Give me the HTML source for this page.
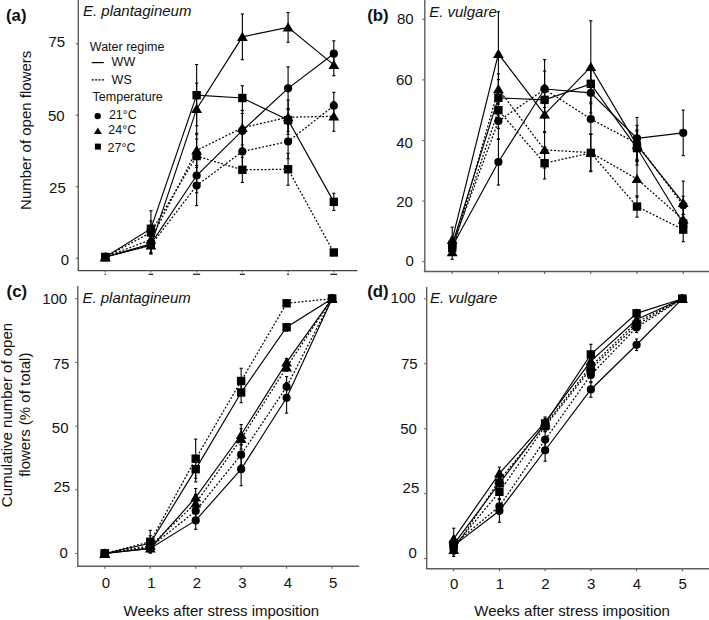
<!DOCTYPE html><html><head><meta charset="utf-8"><style>html,body{margin:0;padding:0;background:#fff;}svg{display:block;}text{font-family:"Liberation Sans",sans-serif;}</style></head><body><svg width="709" height="620" viewBox="0 0 709 620" font-family="Liberation Sans, sans-serif" fill="#111">
<rect width="709" height="620" fill="#fff"/>
<line x1="78.3" y1="0" x2="78.3" y2="270.3" stroke="#5e5e5e" stroke-width="1.4" />
<line x1="77.6" y1="270.5" x2="357.5" y2="270.5" stroke="#444" stroke-width="1.25" />
<line x1="424.8" y1="0" x2="424.8" y2="271.5" stroke="#5e5e5e" stroke-width="1.4" />
<line x1="423.8" y1="271.5" x2="709" y2="271.5" stroke="#5e5e5e" stroke-width="1.4" />
<line x1="77.8" y1="286" x2="77.8" y2="566.2" stroke="#5e5e5e" stroke-width="1.4" />
<line x1="77.1" y1="566.2" x2="359.2" y2="566.2" stroke="#5e5e5e" stroke-width="1.4" />
<line x1="426.7" y1="287" x2="426.7" y2="568.8" stroke="#5e5e5e" stroke-width="1.4" />
<line x1="426" y1="568.8" x2="709" y2="568.8" stroke="#5e5e5e" stroke-width="1.4" />
<line x1="75.8" y1="258.2" x2="78.3" y2="258.2" stroke="#5e5e5e" stroke-width="1.1" />
<line x1="75.8" y1="186.7" x2="78.3" y2="186.7" stroke="#5e5e5e" stroke-width="1.1" />
<line x1="75.8" y1="115.2" x2="78.3" y2="115.2" stroke="#5e5e5e" stroke-width="1.1" />
<line x1="75.8" y1="43.7" x2="78.3" y2="43.7" stroke="#5e5e5e" stroke-width="1.1" />
<line x1="422.3" y1="261.7" x2="424.8" y2="261.7" stroke="#5e5e5e" stroke-width="1.1" />
<line x1="422.3" y1="201.1" x2="424.8" y2="201.1" stroke="#5e5e5e" stroke-width="1.1" />
<line x1="422.3" y1="140.5" x2="424.8" y2="140.5" stroke="#5e5e5e" stroke-width="1.1" />
<line x1="422.3" y1="79.9" x2="424.8" y2="79.9" stroke="#5e5e5e" stroke-width="1.1" />
<line x1="422.3" y1="19.3" x2="424.8" y2="19.3" stroke="#5e5e5e" stroke-width="1.1" />
<line x1="75.3" y1="553.5" x2="77.8" y2="553.5" stroke="#5e5e5e" stroke-width="1.1" />
<line x1="75.3" y1="489.8" x2="77.8" y2="489.8" stroke="#5e5e5e" stroke-width="1.1" />
<line x1="75.3" y1="426.1" x2="77.8" y2="426.1" stroke="#5e5e5e" stroke-width="1.1" />
<line x1="75.3" y1="362.4" x2="77.8" y2="362.4" stroke="#5e5e5e" stroke-width="1.1" />
<line x1="75.3" y1="298.7" x2="77.8" y2="298.7" stroke="#5e5e5e" stroke-width="1.1" />
<line x1="424.2" y1="558.6" x2="426.7" y2="558.6" stroke="#5e5e5e" stroke-width="1.1" />
<line x1="424.2" y1="493.65" x2="426.7" y2="493.65" stroke="#5e5e5e" stroke-width="1.1" />
<line x1="424.2" y1="428.7" x2="426.7" y2="428.7" stroke="#5e5e5e" stroke-width="1.1" />
<line x1="424.2" y1="363.75" x2="426.7" y2="363.75" stroke="#5e5e5e" stroke-width="1.1" />
<line x1="424.2" y1="298.8" x2="426.7" y2="298.8" stroke="#5e5e5e" stroke-width="1.1" />
<line x1="452.2" y1="271.5" x2="452.2" y2="274" stroke="#5e5e5e" stroke-width="1.1" />
<line x1="498.4" y1="271.5" x2="498.4" y2="274" stroke="#5e5e5e" stroke-width="1.1" />
<line x1="544.6" y1="271.5" x2="544.6" y2="274" stroke="#5e5e5e" stroke-width="1.1" />
<line x1="590.8" y1="271.5" x2="590.8" y2="274" stroke="#5e5e5e" stroke-width="1.1" />
<line x1="637" y1="271.5" x2="637" y2="274" stroke="#5e5e5e" stroke-width="1.1" />
<line x1="683.2" y1="271.5" x2="683.2" y2="274" stroke="#5e5e5e" stroke-width="1.1" />
<line x1="104.8" y1="566.2" x2="104.8" y2="568.7" stroke="#5e5e5e" stroke-width="1.1" />
<line x1="150.25" y1="566.2" x2="150.25" y2="568.7" stroke="#5e5e5e" stroke-width="1.1" />
<line x1="195.7" y1="566.2" x2="195.7" y2="568.7" stroke="#5e5e5e" stroke-width="1.1" />
<line x1="241.15" y1="566.2" x2="241.15" y2="568.7" stroke="#5e5e5e" stroke-width="1.1" />
<line x1="286.6" y1="566.2" x2="286.6" y2="568.7" stroke="#5e5e5e" stroke-width="1.1" />
<line x1="332.05" y1="566.2" x2="332.05" y2="568.7" stroke="#5e5e5e" stroke-width="1.1" />
<line x1="453.7" y1="568.8" x2="453.7" y2="571.3" stroke="#5e5e5e" stroke-width="1.1" />
<line x1="499.42" y1="568.8" x2="499.42" y2="571.3" stroke="#5e5e5e" stroke-width="1.1" />
<line x1="545.14" y1="568.8" x2="545.14" y2="571.3" stroke="#5e5e5e" stroke-width="1.1" />
<line x1="590.86" y1="568.8" x2="590.86" y2="571.3" stroke="#5e5e5e" stroke-width="1.1" />
<line x1="636.58" y1="568.8" x2="636.58" y2="571.3" stroke="#5e5e5e" stroke-width="1.1" />
<line x1="682.3" y1="568.8" x2="682.3" y2="571.3" stroke="#5e5e5e" stroke-width="1.1" />
<line x1="105.2" y1="270.3" x2="105.2" y2="272.5" stroke="#5e5e5e" stroke-width="1.0" />
<line x1="104.6" y1="274.3" x2="105.8" y2="274.3" stroke="#222" stroke-width="1.3" />
<line x1="150.92" y1="270.3" x2="150.92" y2="272.5" stroke="#5e5e5e" stroke-width="1.0" />
<line x1="148.62" y1="274.3" x2="153.22" y2="274.3" stroke="#222" stroke-width="1.3" />
<line x1="196.64" y1="270.3" x2="196.64" y2="272.5" stroke="#5e5e5e" stroke-width="1.0" />
<line x1="193.14" y1="274.3" x2="200.14" y2="274.3" stroke="#222" stroke-width="1.3" />
<line x1="242.36" y1="270.3" x2="242.36" y2="272.5" stroke="#5e5e5e" stroke-width="1.0" />
<line x1="239.86" y1="274.3" x2="244.86" y2="274.3" stroke="#222" stroke-width="1.3" />
<line x1="288.08" y1="270.3" x2="288.08" y2="272.5" stroke="#5e5e5e" stroke-width="1.0" />
<line x1="287.08" y1="274.3" x2="289.08" y2="274.3" stroke="#222" stroke-width="1.3" />
<line x1="333.8" y1="270.3" x2="333.8" y2="272.5" stroke="#5e5e5e" stroke-width="1.0" />
<line x1="330.4" y1="274.3" x2="337.2" y2="274.3" stroke="#222" stroke-width="1.3" />
<text x="65.2" y="47.2" font-size="15" text-anchor="end" font-weight="normal" font-style="normal" >75</text>
<text x="64.6" y="121" font-size="15" text-anchor="end" font-weight="normal" font-style="normal" >50</text>
<text x="65.8" y="192.7" font-size="15" text-anchor="end" font-weight="normal" font-style="normal" >25</text>
<text x="69.2" y="265" font-size="15" text-anchor="end" font-weight="normal" font-style="normal" >0</text>
<text x="413.6" y="24.1" font-size="15" text-anchor="end" font-weight="normal" font-style="normal" >80</text>
<text x="412.6" y="84.5" font-size="15" text-anchor="end" font-weight="normal" font-style="normal" >60</text>
<text x="412.9" y="147.7" font-size="15" text-anchor="end" font-weight="normal" font-style="normal" >40</text>
<text x="412.9" y="207.1" font-size="15" text-anchor="end" font-weight="normal" font-style="normal" >20</text>
<text x="413.9" y="265.8" font-size="15" text-anchor="end" font-weight="normal" font-style="normal" >0</text>
<text x="67.2" y="304" font-size="15" text-anchor="end" font-weight="normal" font-style="normal" >100</text>
<text x="69.4" y="368.9" font-size="15" text-anchor="end" font-weight="normal" font-style="normal" >75</text>
<text x="68.5" y="433.1" font-size="15" text-anchor="end" font-weight="normal" font-style="normal" >50</text>
<text x="70.1" y="491.9" font-size="15" text-anchor="end" font-weight="normal" font-style="normal" >25</text>
<text x="67.9" y="557.6" font-size="15" text-anchor="end" font-weight="normal" font-style="normal" >0</text>
<text x="415.6" y="303.3" font-size="15" text-anchor="end" font-weight="normal" font-style="normal" >100</text>
<text x="417.6" y="368.9" font-size="15" text-anchor="end" font-weight="normal" font-style="normal" >75</text>
<text x="416.9" y="433.9" font-size="15" text-anchor="end" font-weight="normal" font-style="normal" >50</text>
<text x="419.3" y="493.2" font-size="15" text-anchor="end" font-weight="normal" font-style="normal" >25</text>
<text x="416.8" y="557.7" font-size="15" text-anchor="end" font-weight="normal" font-style="normal" >0</text>
<text x="106" y="587.6" font-size="15" text-anchor="middle" font-weight="normal" font-style="normal" >0</text>
<text x="151.45" y="587.6" font-size="15" text-anchor="middle" font-weight="normal" font-style="normal" >1</text>
<text x="196.9" y="587.6" font-size="15" text-anchor="middle" font-weight="normal" font-style="normal" >2</text>
<text x="242.35" y="587.6" font-size="15" text-anchor="middle" font-weight="normal" font-style="normal" >3</text>
<text x="287.8" y="587.6" font-size="15" text-anchor="middle" font-weight="normal" font-style="normal" >4</text>
<text x="333.25" y="587.6" font-size="15" text-anchor="middle" font-weight="normal" font-style="normal" >5</text>
<text x="454.1" y="588.6" font-size="15" text-anchor="middle" font-weight="normal" font-style="normal" >0</text>
<text x="499.82" y="588.6" font-size="15" text-anchor="middle" font-weight="normal" font-style="normal" >1</text>
<text x="545.54" y="588.6" font-size="15" text-anchor="middle" font-weight="normal" font-style="normal" >2</text>
<text x="591.26" y="588.6" font-size="15" text-anchor="middle" font-weight="normal" font-style="normal" >3</text>
<text x="636.98" y="588.6" font-size="15" text-anchor="middle" font-weight="normal" font-style="normal" >4</text>
<text x="682.7" y="588.6" font-size="15" text-anchor="middle" font-weight="normal" font-style="normal" >5</text>
<text x="123.6" y="616.3" font-size="15" text-anchor="start" font-weight="normal" font-style="normal" >Weeks after stress imposition</text>
<text x="474.3" y="616.3" font-size="15" text-anchor="start" font-weight="normal" font-style="normal" >Weeks after stress imposition</text>
<text transform="translate(30.6 130.3) rotate(-90)" font-size="15" text-anchor="middle">Number of open flowers</text>
<text transform="translate(11.9 415) rotate(-90)" font-size="15" text-anchor="middle">Cumulative number of open</text>
<text transform="translate(29.8 414.7) rotate(-90)" font-size="15" text-anchor="middle">flowers (% of total)</text>
<text x="6" y="20.5" font-size="16.8" text-anchor="start" font-weight="bold" font-style="normal" >(a)</text>
<text x="367.2" y="20.5" font-size="16.8" text-anchor="start" font-weight="bold" font-style="normal" >(b)</text>
<text x="6.6" y="297.3" font-size="16.8" text-anchor="start" font-weight="bold" font-style="normal" >(c)</text>
<text x="367.2" y="297.2" font-size="16.8" text-anchor="start" font-weight="bold" font-style="normal" >(d)</text>
<text x="83" y="15.5" font-size="15" text-anchor="start" font-weight="normal" font-style="italic" >E. plantagineum</text>
<text x="429.2" y="16.9" font-size="15" text-anchor="start" font-weight="normal" font-style="italic" >E. vulgare</text>
<text x="82.4" y="302.8" font-size="15" text-anchor="start" font-weight="normal" font-style="italic" >E. plantagineum</text>
<text x="429.9" y="303.3" font-size="15" text-anchor="start" font-weight="normal" font-style="italic" >E. vulgare</text>
<line x1="150.92" y1="235.32" x2="150.92" y2="252.48" stroke="#000" stroke-width="1.1" />
<line x1="149.32" y1="235.32" x2="152.52" y2="235.32" stroke="#000" stroke-width="1.1" />
<line x1="149.32" y1="252.48" x2="152.52" y2="252.48" stroke="#000" stroke-width="1.1" />
<line x1="196.64" y1="158.39" x2="196.64" y2="192.71" stroke="#000" stroke-width="1.1" />
<line x1="195.04" y1="158.39" x2="198.24" y2="158.39" stroke="#000" stroke-width="1.1" />
<line x1="195.04" y1="192.71" x2="198.24" y2="192.71" stroke="#000" stroke-width="1.1" />
<line x1="242.36" y1="113.48" x2="242.36" y2="147.8" stroke="#000" stroke-width="1.1" />
<line x1="240.76" y1="113.48" x2="243.96" y2="113.48" stroke="#000" stroke-width="1.1" />
<line x1="240.76" y1="147.8" x2="243.96" y2="147.8" stroke="#000" stroke-width="1.1" />
<line x1="288.08" y1="66.87" x2="288.08" y2="109.77" stroke="#000" stroke-width="1.1" />
<line x1="286.48" y1="66.87" x2="289.68" y2="66.87" stroke="#000" stroke-width="1.1" />
<line x1="286.48" y1="109.77" x2="289.68" y2="109.77" stroke="#000" stroke-width="1.1" />
<line x1="333.8" y1="40.84" x2="333.8" y2="66.58" stroke="#000" stroke-width="1.1" />
<line x1="332.2" y1="40.84" x2="335.4" y2="40.84" stroke="#000" stroke-width="1.1" />
<line x1="332.2" y1="66.58" x2="335.4" y2="66.58" stroke="#000" stroke-width="1.1" />
<line x1="150.92" y1="236.75" x2="150.92" y2="253.91" stroke="#000" stroke-width="1.1" />
<line x1="149.32" y1="236.75" x2="152.52" y2="236.75" stroke="#000" stroke-width="1.1" />
<line x1="149.32" y1="253.91" x2="152.52" y2="253.91" stroke="#000" stroke-width="1.1" />
<line x1="196.64" y1="83.17" x2="196.64" y2="134.65" stroke="#000" stroke-width="1.1" />
<line x1="195.04" y1="83.17" x2="198.24" y2="83.17" stroke="#000" stroke-width="1.1" />
<line x1="195.04" y1="134.65" x2="198.24" y2="134.65" stroke="#000" stroke-width="1.1" />
<line x1="242.36" y1="13.96" x2="242.36" y2="59.72" stroke="#000" stroke-width="1.1" />
<line x1="240.76" y1="13.96" x2="243.96" y2="13.96" stroke="#000" stroke-width="1.1" />
<line x1="240.76" y1="59.72" x2="243.96" y2="59.72" stroke="#000" stroke-width="1.1" />
<line x1="288.08" y1="12.53" x2="288.08" y2="42.27" stroke="#000" stroke-width="1.1" />
<line x1="286.48" y1="12.53" x2="289.68" y2="12.53" stroke="#000" stroke-width="1.1" />
<line x1="286.48" y1="42.27" x2="289.68" y2="42.27" stroke="#000" stroke-width="1.1" />
<line x1="333.8" y1="54" x2="333.8" y2="75.73" stroke="#000" stroke-width="1.1" />
<line x1="332.2" y1="54" x2="335.4" y2="54" stroke="#000" stroke-width="1.1" />
<line x1="332.2" y1="75.73" x2="335.4" y2="75.73" stroke="#000" stroke-width="1.1" />
<line x1="150.92" y1="210.72" x2="150.92" y2="246.76" stroke="#000" stroke-width="1.1" />
<line x1="149.32" y1="210.72" x2="152.52" y2="210.72" stroke="#000" stroke-width="1.1" />
<line x1="149.32" y1="246.76" x2="152.52" y2="246.76" stroke="#000" stroke-width="1.1" />
<line x1="196.64" y1="64.58" x2="196.64" y2="125.78" stroke="#000" stroke-width="1.1" />
<line x1="195.04" y1="64.58" x2="198.24" y2="64.58" stroke="#000" stroke-width="1.1" />
<line x1="195.04" y1="125.78" x2="198.24" y2="125.78" stroke="#000" stroke-width="1.1" />
<line x1="242.36" y1="85.74" x2="242.36" y2="110.34" stroke="#000" stroke-width="1.1" />
<line x1="240.76" y1="85.74" x2="243.96" y2="85.74" stroke="#000" stroke-width="1.1" />
<line x1="240.76" y1="110.34" x2="243.96" y2="110.34" stroke="#000" stroke-width="1.1" />
<line x1="288.08" y1="108.62" x2="288.08" y2="131.5" stroke="#000" stroke-width="1.1" />
<line x1="286.48" y1="108.62" x2="289.68" y2="108.62" stroke="#000" stroke-width="1.1" />
<line x1="286.48" y1="131.5" x2="289.68" y2="131.5" stroke="#000" stroke-width="1.1" />
<line x1="333.8" y1="193.28" x2="333.8" y2="210.44" stroke="#000" stroke-width="1.1" />
<line x1="332.2" y1="193.28" x2="335.4" y2="193.28" stroke="#000" stroke-width="1.1" />
<line x1="332.2" y1="210.44" x2="335.4" y2="210.44" stroke="#000" stroke-width="1.1" />
<line x1="150.92" y1="236.75" x2="150.92" y2="253.91" stroke="#000" stroke-width="1.1" />
<line x1="149.32" y1="236.75" x2="152.52" y2="236.75" stroke="#000" stroke-width="1.1" />
<line x1="149.32" y1="253.91" x2="152.52" y2="253.91" stroke="#000" stroke-width="1.1" />
<line x1="196.64" y1="165.54" x2="196.64" y2="205.58" stroke="#000" stroke-width="1.1" />
<line x1="195.04" y1="165.54" x2="198.24" y2="165.54" stroke="#000" stroke-width="1.1" />
<line x1="195.04" y1="205.58" x2="198.24" y2="205.58" stroke="#000" stroke-width="1.1" />
<line x1="242.36" y1="134.36" x2="242.36" y2="168.68" stroke="#000" stroke-width="1.1" />
<line x1="240.76" y1="134.36" x2="243.96" y2="134.36" stroke="#000" stroke-width="1.1" />
<line x1="240.76" y1="168.68" x2="243.96" y2="168.68" stroke="#000" stroke-width="1.1" />
<line x1="288.08" y1="124.35" x2="288.08" y2="158.67" stroke="#000" stroke-width="1.1" />
<line x1="286.48" y1="124.35" x2="289.68" y2="124.35" stroke="#000" stroke-width="1.1" />
<line x1="286.48" y1="158.67" x2="289.68" y2="158.67" stroke="#000" stroke-width="1.1" />
<line x1="333.8" y1="92.32" x2="333.8" y2="119.2" stroke="#000" stroke-width="1.1" />
<line x1="332.2" y1="92.32" x2="335.4" y2="92.32" stroke="#000" stroke-width="1.1" />
<line x1="332.2" y1="119.2" x2="335.4" y2="119.2" stroke="#000" stroke-width="1.1" />
<line x1="150.92" y1="231.03" x2="150.92" y2="248.19" stroke="#000" stroke-width="1.1" />
<line x1="149.32" y1="231.03" x2="152.52" y2="231.03" stroke="#000" stroke-width="1.1" />
<line x1="149.32" y1="248.19" x2="152.52" y2="248.19" stroke="#000" stroke-width="1.1" />
<line x1="196.64" y1="133.22" x2="196.64" y2="167.54" stroke="#000" stroke-width="1.1" />
<line x1="195.04" y1="133.22" x2="198.24" y2="133.22" stroke="#000" stroke-width="1.1" />
<line x1="195.04" y1="167.54" x2="198.24" y2="167.54" stroke="#000" stroke-width="1.1" />
<line x1="242.36" y1="110.62" x2="242.36" y2="144.94" stroke="#000" stroke-width="1.1" />
<line x1="240.76" y1="110.62" x2="243.96" y2="110.62" stroke="#000" stroke-width="1.1" />
<line x1="240.76" y1="144.94" x2="243.96" y2="144.94" stroke="#000" stroke-width="1.1" />
<line x1="288.08" y1="100.04" x2="288.08" y2="134.36" stroke="#000" stroke-width="1.1" />
<line x1="286.48" y1="100.04" x2="289.68" y2="100.04" stroke="#000" stroke-width="1.1" />
<line x1="286.48" y1="134.36" x2="289.68" y2="134.36" stroke="#000" stroke-width="1.1" />
<line x1="333.8" y1="101.47" x2="333.8" y2="131.22" stroke="#000" stroke-width="1.1" />
<line x1="332.2" y1="101.47" x2="335.4" y2="101.47" stroke="#000" stroke-width="1.1" />
<line x1="332.2" y1="131.22" x2="335.4" y2="131.22" stroke="#000" stroke-width="1.1" />
<line x1="150.92" y1="221.02" x2="150.92" y2="243.9" stroke="#000" stroke-width="1.1" />
<line x1="149.32" y1="221.02" x2="152.52" y2="221.02" stroke="#000" stroke-width="1.1" />
<line x1="149.32" y1="243.9" x2="152.52" y2="243.9" stroke="#000" stroke-width="1.1" />
<line x1="196.64" y1="138.94" x2="196.64" y2="173.26" stroke="#000" stroke-width="1.1" />
<line x1="195.04" y1="138.94" x2="198.24" y2="138.94" stroke="#000" stroke-width="1.1" />
<line x1="195.04" y1="173.26" x2="198.24" y2="173.26" stroke="#000" stroke-width="1.1" />
<line x1="242.36" y1="157.24" x2="242.36" y2="182.41" stroke="#000" stroke-width="1.1" />
<line x1="240.76" y1="157.24" x2="243.96" y2="157.24" stroke="#000" stroke-width="1.1" />
<line x1="240.76" y1="182.41" x2="243.96" y2="182.41" stroke="#000" stroke-width="1.1" />
<line x1="288.08" y1="153.24" x2="288.08" y2="185.27" stroke="#000" stroke-width="1.1" />
<line x1="286.48" y1="153.24" x2="289.68" y2="153.24" stroke="#000" stroke-width="1.1" />
<line x1="286.48" y1="185.27" x2="289.68" y2="185.27" stroke="#000" stroke-width="1.1" />
<polyline points="105.2,257.06 150.92,243.9 196.64,175.55 242.36,130.64 288.08,88.32 333.8,53.71" fill="none" stroke="#000" stroke-width="1.15" />
<polyline points="105.2,257.06 150.92,245.33 196.64,108.91 242.36,36.84 288.08,27.4 333.8,64.86" fill="none" stroke="#000" stroke-width="1.15" />
<polyline points="105.2,257.06 150.92,228.74 196.64,95.18 242.36,98.04 288.08,120.06 333.8,201.86" fill="none" stroke="#000" stroke-width="1.15" />
<polyline points="105.2,257.06 150.92,245.33 196.64,185.56 242.36,151.52 288.08,141.51 333.8,105.76" fill="none" stroke="#000" stroke-width="1.25" stroke-dasharray="1.9 1.8"/>
<polyline points="105.2,257.06 150.92,239.61 196.64,150.38 242.36,127.78 288.08,117.2 333.8,116.34" fill="none" stroke="#000" stroke-width="1.25" stroke-dasharray="1.9 1.8"/>
<polyline points="105.2,257.06 150.92,232.46 196.64,156.1 242.36,169.83 288.08,169.25 333.8,252.48" fill="none" stroke="#000" stroke-width="1.25" stroke-dasharray="1.9 1.8"/>
<circle cx="105.2" cy="257.06" r="4.1" fill="#000"/>
<circle cx="150.92" cy="243.9" r="4.1" fill="#000"/>
<circle cx="196.64" cy="175.55" r="4.1" fill="#000"/>
<circle cx="242.36" cy="130.64" r="4.1" fill="#000"/>
<circle cx="288.08" cy="88.32" r="4.1" fill="#000"/>
<circle cx="333.8" cy="53.71" r="4.1" fill="#000"/>
<path d="M105.2 252L110.6 261.2L99.8 261.2Z" fill="#000"/>
<path d="M150.92 240.27L156.32 249.47L145.52 249.47Z" fill="#000"/>
<path d="M196.64 103.85L202.04 113.05L191.24 113.05Z" fill="#000"/>
<path d="M242.36 31.78L247.76 40.98L236.96 40.98Z" fill="#000"/>
<path d="M288.08 22.34L293.48 31.54L282.68 31.54Z" fill="#000"/>
<path d="M333.8 59.8L339.2 69L328.4 69Z" fill="#000"/>
<rect x="101" y="252.86" width="8.4" height="8.4" fill="#000"/>
<rect x="146.72" y="224.54" width="8.4" height="8.4" fill="#000"/>
<rect x="192.44" y="90.98" width="8.4" height="8.4" fill="#000"/>
<rect x="238.16" y="93.84" width="8.4" height="8.4" fill="#000"/>
<rect x="283.88" y="115.86" width="8.4" height="8.4" fill="#000"/>
<rect x="329.6" y="197.66" width="8.4" height="8.4" fill="#000"/>
<circle cx="105.2" cy="257.06" r="4.1" fill="#000"/>
<circle cx="150.92" cy="245.33" r="4.1" fill="#000"/>
<circle cx="196.64" cy="185.56" r="4.1" fill="#000"/>
<circle cx="242.36" cy="151.52" r="4.1" fill="#000"/>
<circle cx="288.08" cy="141.51" r="4.1" fill="#000"/>
<circle cx="333.8" cy="105.76" r="4.1" fill="#000"/>
<path d="M105.2 252L110.6 261.2L99.8 261.2Z" fill="#000"/>
<path d="M150.92 234.55L156.32 243.75L145.52 243.75Z" fill="#000"/>
<path d="M196.64 145.32L202.04 154.52L191.24 154.52Z" fill="#000"/>
<path d="M242.36 122.72L247.76 131.92L236.96 131.92Z" fill="#000"/>
<path d="M288.08 112.14L293.48 121.34L282.68 121.34Z" fill="#000"/>
<path d="M333.8 111.28L339.2 120.48L328.4 120.48Z" fill="#000"/>
<rect x="101" y="252.86" width="8.4" height="8.4" fill="#000"/>
<rect x="146.72" y="228.26" width="8.4" height="8.4" fill="#000"/>
<rect x="192.44" y="151.9" width="8.4" height="8.4" fill="#000"/>
<rect x="238.16" y="165.63" width="8.4" height="8.4" fill="#000"/>
<rect x="283.88" y="165.05" width="8.4" height="8.4" fill="#000"/>
<rect x="329.6" y="248.28" width="8.4" height="8.4" fill="#000"/>
<line x1="452.2" y1="240.49" x2="452.2" y2="252.61" stroke="#000" stroke-width="1.1" />
<line x1="450.6" y1="240.49" x2="453.8" y2="240.49" stroke="#000" stroke-width="1.1" />
<line x1="450.6" y1="252.61" x2="453.8" y2="252.61" stroke="#000" stroke-width="1.1" />
<line x1="498.4" y1="138.99" x2="498.4" y2="185.04" stroke="#000" stroke-width="1.1" />
<line x1="496.8" y1="138.99" x2="500" y2="138.99" stroke="#000" stroke-width="1.1" />
<line x1="496.8" y1="185.04" x2="500" y2="185.04" stroke="#000" stroke-width="1.1" />
<line x1="544.6" y1="59.6" x2="544.6" y2="118.38" stroke="#000" stroke-width="1.1" />
<line x1="543" y1="59.6" x2="546.2" y2="59.6" stroke="#000" stroke-width="1.1" />
<line x1="543" y1="118.38" x2="546.2" y2="118.38" stroke="#000" stroke-width="1.1" />
<line x1="590.8" y1="68.69" x2="590.8" y2="117.17" stroke="#000" stroke-width="1.1" />
<line x1="589.2" y1="68.69" x2="592.4" y2="68.69" stroke="#000" stroke-width="1.1" />
<line x1="589.2" y1="117.17" x2="592.4" y2="117.17" stroke="#000" stroke-width="1.1" />
<line x1="637" y1="117.47" x2="637" y2="159.29" stroke="#000" stroke-width="1.1" />
<line x1="635.4" y1="117.47" x2="638.6" y2="117.47" stroke="#000" stroke-width="1.1" />
<line x1="635.4" y1="159.29" x2="638.6" y2="159.29" stroke="#000" stroke-width="1.1" />
<line x1="683.2" y1="110.2" x2="683.2" y2="155.65" stroke="#000" stroke-width="1.1" />
<line x1="681.6" y1="110.2" x2="684.8" y2="110.2" stroke="#000" stroke-width="1.1" />
<line x1="681.6" y1="155.65" x2="684.8" y2="155.65" stroke="#000" stroke-width="1.1" />
<line x1="452.2" y1="239.88" x2="452.2" y2="252" stroke="#000" stroke-width="1.1" />
<line x1="450.6" y1="239.88" x2="453.8" y2="239.88" stroke="#000" stroke-width="1.1" />
<line x1="450.6" y1="252" x2="453.8" y2="252" stroke="#000" stroke-width="1.1" />
<line x1="498.4" y1="102.93" x2="498.4" y2="139.29" stroke="#000" stroke-width="1.1" />
<line x1="496.8" y1="102.93" x2="500" y2="102.93" stroke="#000" stroke-width="1.1" />
<line x1="496.8" y1="139.29" x2="500" y2="139.29" stroke="#000" stroke-width="1.1" />
<line x1="544.6" y1="71.11" x2="544.6" y2="107.47" stroke="#000" stroke-width="1.1" />
<line x1="543" y1="71.11" x2="546.2" y2="71.11" stroke="#000" stroke-width="1.1" />
<line x1="543" y1="107.47" x2="546.2" y2="107.47" stroke="#000" stroke-width="1.1" />
<line x1="590.8" y1="103.84" x2="590.8" y2="134.14" stroke="#000" stroke-width="1.1" />
<line x1="589.2" y1="103.84" x2="592.4" y2="103.84" stroke="#000" stroke-width="1.1" />
<line x1="589.2" y1="134.14" x2="592.4" y2="134.14" stroke="#000" stroke-width="1.1" />
<line x1="637" y1="125.35" x2="637" y2="161.71" stroke="#000" stroke-width="1.1" />
<line x1="635.4" y1="125.35" x2="638.6" y2="125.35" stroke="#000" stroke-width="1.1" />
<line x1="635.4" y1="161.71" x2="638.6" y2="161.71" stroke="#000" stroke-width="1.1" />
<line x1="683.2" y1="196.25" x2="683.2" y2="214.43" stroke="#000" stroke-width="1.1" />
<line x1="681.6" y1="196.25" x2="684.8" y2="196.25" stroke="#000" stroke-width="1.1" />
<line x1="681.6" y1="214.43" x2="684.8" y2="214.43" stroke="#000" stroke-width="1.1" />
<line x1="452.2" y1="227.16" x2="452.2" y2="252.61" stroke="#000" stroke-width="1.1" />
<line x1="450.6" y1="227.16" x2="453.8" y2="227.16" stroke="#000" stroke-width="1.1" />
<line x1="450.6" y1="252.61" x2="453.8" y2="252.61" stroke="#000" stroke-width="1.1" />
<line x1="498.4" y1="11.72" x2="498.4" y2="95.96" stroke="#000" stroke-width="1.1" />
<line x1="496.8" y1="11.72" x2="500" y2="11.72" stroke="#000" stroke-width="1.1" />
<line x1="496.8" y1="95.96" x2="500" y2="95.96" stroke="#000" stroke-width="1.1" />
<line x1="544.6" y1="96.26" x2="544.6" y2="132.62" stroke="#000" stroke-width="1.1" />
<line x1="543" y1="96.26" x2="546.2" y2="96.26" stroke="#000" stroke-width="1.1" />
<line x1="543" y1="132.62" x2="546.2" y2="132.62" stroke="#000" stroke-width="1.1" />
<line x1="590.8" y1="20.81" x2="590.8" y2="112.93" stroke="#000" stroke-width="1.1" />
<line x1="589.2" y1="20.81" x2="592.4" y2="20.81" stroke="#000" stroke-width="1.1" />
<line x1="589.2" y1="112.93" x2="592.4" y2="112.93" stroke="#000" stroke-width="1.1" />
<line x1="637" y1="129.9" x2="637" y2="160.19" stroke="#000" stroke-width="1.1" />
<line x1="635.4" y1="129.9" x2="638.6" y2="129.9" stroke="#000" stroke-width="1.1" />
<line x1="635.4" y1="160.19" x2="638.6" y2="160.19" stroke="#000" stroke-width="1.1" />
<line x1="683.2" y1="181.1" x2="683.2" y2="224.73" stroke="#000" stroke-width="1.1" />
<line x1="681.6" y1="181.1" x2="684.8" y2="181.1" stroke="#000" stroke-width="1.1" />
<line x1="681.6" y1="224.73" x2="684.8" y2="224.73" stroke="#000" stroke-width="1.1" />
<line x1="452.2" y1="244.73" x2="452.2" y2="259.28" stroke="#000" stroke-width="1.1" />
<line x1="450.6" y1="244.73" x2="453.8" y2="244.73" stroke="#000" stroke-width="1.1" />
<line x1="450.6" y1="259.28" x2="453.8" y2="259.28" stroke="#000" stroke-width="1.1" />
<line x1="498.4" y1="73.84" x2="498.4" y2="104.14" stroke="#000" stroke-width="1.1" />
<line x1="496.8" y1="73.84" x2="500" y2="73.84" stroke="#000" stroke-width="1.1" />
<line x1="496.8" y1="104.14" x2="500" y2="104.14" stroke="#000" stroke-width="1.1" />
<line x1="544.6" y1="131.71" x2="544.6" y2="168.07" stroke="#000" stroke-width="1.1" />
<line x1="543" y1="131.71" x2="546.2" y2="131.71" stroke="#000" stroke-width="1.1" />
<line x1="543" y1="168.07" x2="546.2" y2="168.07" stroke="#000" stroke-width="1.1" />
<line x1="590.8" y1="134.44" x2="590.8" y2="170.8" stroke="#000" stroke-width="1.1" />
<line x1="589.2" y1="134.44" x2="592.4" y2="134.44" stroke="#000" stroke-width="1.1" />
<line x1="589.2" y1="170.8" x2="592.4" y2="170.8" stroke="#000" stroke-width="1.1" />
<line x1="637" y1="160.8" x2="637" y2="197.16" stroke="#000" stroke-width="1.1" />
<line x1="635.4" y1="160.8" x2="638.6" y2="160.8" stroke="#000" stroke-width="1.1" />
<line x1="635.4" y1="197.16" x2="638.6" y2="197.16" stroke="#000" stroke-width="1.1" />
<line x1="683.2" y1="207.46" x2="683.2" y2="231.7" stroke="#000" stroke-width="1.1" />
<line x1="681.6" y1="207.46" x2="684.8" y2="207.46" stroke="#000" stroke-width="1.1" />
<line x1="681.6" y1="231.7" x2="684.8" y2="231.7" stroke="#000" stroke-width="1.1" />
<line x1="452.2" y1="238.37" x2="452.2" y2="251.7" stroke="#000" stroke-width="1.1" />
<line x1="450.6" y1="238.37" x2="453.8" y2="238.37" stroke="#000" stroke-width="1.1" />
<line x1="450.6" y1="251.7" x2="453.8" y2="251.7" stroke="#000" stroke-width="1.1" />
<line x1="498.4" y1="79.6" x2="498.4" y2="115.96" stroke="#000" stroke-width="1.1" />
<line x1="496.8" y1="79.6" x2="500" y2="79.6" stroke="#000" stroke-width="1.1" />
<line x1="496.8" y1="115.96" x2="500" y2="115.96" stroke="#000" stroke-width="1.1" />
<line x1="544.6" y1="84.75" x2="544.6" y2="115.05" stroke="#000" stroke-width="1.1" />
<line x1="543" y1="84.75" x2="546.2" y2="84.75" stroke="#000" stroke-width="1.1" />
<line x1="543" y1="115.05" x2="546.2" y2="115.05" stroke="#000" stroke-width="1.1" />
<line x1="590.8" y1="65.66" x2="590.8" y2="102.02" stroke="#000" stroke-width="1.1" />
<line x1="589.2" y1="65.66" x2="592.4" y2="65.66" stroke="#000" stroke-width="1.1" />
<line x1="589.2" y1="102.02" x2="592.4" y2="102.02" stroke="#000" stroke-width="1.1" />
<line x1="637" y1="131.11" x2="637" y2="165.04" stroke="#000" stroke-width="1.1" />
<line x1="635.4" y1="131.11" x2="638.6" y2="131.11" stroke="#000" stroke-width="1.1" />
<line x1="635.4" y1="165.04" x2="638.6" y2="165.04" stroke="#000" stroke-width="1.1" />
<line x1="683.2" y1="214.43" x2="683.2" y2="232.61" stroke="#000" stroke-width="1.1" />
<line x1="681.6" y1="214.43" x2="684.8" y2="214.43" stroke="#000" stroke-width="1.1" />
<line x1="681.6" y1="232.61" x2="684.8" y2="232.61" stroke="#000" stroke-width="1.1" />
<line x1="452.2" y1="241.4" x2="452.2" y2="254.73" stroke="#000" stroke-width="1.1" />
<line x1="450.6" y1="241.4" x2="453.8" y2="241.4" stroke="#000" stroke-width="1.1" />
<line x1="450.6" y1="254.73" x2="453.8" y2="254.73" stroke="#000" stroke-width="1.1" />
<line x1="498.4" y1="92.02" x2="498.4" y2="128.38" stroke="#000" stroke-width="1.1" />
<line x1="496.8" y1="92.02" x2="500" y2="92.02" stroke="#000" stroke-width="1.1" />
<line x1="496.8" y1="128.38" x2="500" y2="128.38" stroke="#000" stroke-width="1.1" />
<line x1="544.6" y1="147.47" x2="544.6" y2="178.98" stroke="#000" stroke-width="1.1" />
<line x1="543" y1="147.47" x2="546.2" y2="147.47" stroke="#000" stroke-width="1.1" />
<line x1="543" y1="178.98" x2="546.2" y2="178.98" stroke="#000" stroke-width="1.1" />
<line x1="590.8" y1="134.14" x2="590.8" y2="171.71" stroke="#000" stroke-width="1.1" />
<line x1="589.2" y1="134.14" x2="592.4" y2="134.14" stroke="#000" stroke-width="1.1" />
<line x1="589.2" y1="171.71" x2="592.4" y2="171.71" stroke="#000" stroke-width="1.1" />
<line x1="637" y1="195.95" x2="637" y2="217.16" stroke="#000" stroke-width="1.1" />
<line x1="635.4" y1="195.95" x2="638.6" y2="195.95" stroke="#000" stroke-width="1.1" />
<line x1="635.4" y1="217.16" x2="638.6" y2="217.16" stroke="#000" stroke-width="1.1" />
<line x1="683.2" y1="217.46" x2="683.2" y2="241.7" stroke="#000" stroke-width="1.1" />
<line x1="681.6" y1="217.46" x2="684.8" y2="217.46" stroke="#000" stroke-width="1.1" />
<line x1="681.6" y1="241.7" x2="684.8" y2="241.7" stroke="#000" stroke-width="1.1" />
<polyline points="452.2,246.55 498.4,162.01 544.6,88.99 590.8,92.93 637,138.38 683.2,132.92" fill="none" stroke="#000" stroke-width="1.15" />
<polyline points="452.2,245.94 498.4,121.11 544.6,89.29 590.8,118.99 637,143.53 683.2,205.34" fill="none" stroke="#000" stroke-width="1.25" stroke-dasharray="1.9 1.8"/>
<polyline points="452.2,239.88 498.4,53.84 544.6,114.44 590.8,66.87 637,145.05 683.2,202.92" fill="none" stroke="#000" stroke-width="1.15" />
<polyline points="452.2,252 498.4,88.99 544.6,149.89 590.8,152.62 637,178.98 683.2,219.58" fill="none" stroke="#000" stroke-width="1.25" stroke-dasharray="1.9 1.8"/>
<polyline points="452.2,245.03 498.4,97.78 544.6,99.9 590.8,83.84 637,148.07 683.2,223.52" fill="none" stroke="#000" stroke-width="1.15" />
<polyline points="452.2,248.06 498.4,110.2 544.6,163.22 590.8,152.92 637,206.55 683.2,229.58" fill="none" stroke="#000" stroke-width="1.25" stroke-dasharray="1.9 1.8"/>
<circle cx="452.2" cy="246.55" r="4.1" fill="#000"/>
<circle cx="498.4" cy="162.01" r="4.1" fill="#000"/>
<circle cx="544.6" cy="88.99" r="4.1" fill="#000"/>
<circle cx="590.8" cy="92.93" r="4.1" fill="#000"/>
<circle cx="637" cy="138.38" r="4.1" fill="#000"/>
<circle cx="683.2" cy="132.92" r="4.1" fill="#000"/>
<circle cx="452.2" cy="245.94" r="4.1" fill="#000"/>
<circle cx="498.4" cy="121.11" r="4.1" fill="#000"/>
<circle cx="544.6" cy="89.29" r="4.1" fill="#000"/>
<circle cx="590.8" cy="118.99" r="4.1" fill="#000"/>
<circle cx="637" cy="143.53" r="4.1" fill="#000"/>
<circle cx="683.2" cy="205.34" r="4.1" fill="#000"/>
<path d="M452.2 234.82L457.6 244.02L446.8 244.02Z" fill="#000"/>
<path d="M498.4 48.78L503.8 57.98L493 57.98Z" fill="#000"/>
<path d="M544.6 109.38L550 118.58L539.2 118.58Z" fill="#000"/>
<path d="M590.8 61.81L596.2 71.01L585.4 71.01Z" fill="#000"/>
<path d="M637 139.99L642.4 149.19L631.6 149.19Z" fill="#000"/>
<path d="M683.2 197.86L688.6 207.06L677.8 207.06Z" fill="#000"/>
<path d="M452.2 246.94L457.6 256.14L446.8 256.14Z" fill="#000"/>
<path d="M498.4 83.93L503.8 93.13L493 93.13Z" fill="#000"/>
<path d="M544.6 144.83L550 154.03L539.2 154.03Z" fill="#000"/>
<path d="M590.8 147.56L596.2 156.76L585.4 156.76Z" fill="#000"/>
<path d="M637 173.92L642.4 183.12L631.6 183.12Z" fill="#000"/>
<path d="M683.2 214.52L688.6 223.72L677.8 223.72Z" fill="#000"/>
<rect x="448" y="240.84" width="8.4" height="8.4" fill="#000"/>
<rect x="494.2" y="93.58" width="8.4" height="8.4" fill="#000"/>
<rect x="540.4" y="95.7" width="8.4" height="8.4" fill="#000"/>
<rect x="586.6" y="79.64" width="8.4" height="8.4" fill="#000"/>
<rect x="632.8" y="143.88" width="8.4" height="8.4" fill="#000"/>
<rect x="679" y="219.32" width="8.4" height="8.4" fill="#000"/>
<rect x="448" y="243.87" width="8.4" height="8.4" fill="#000"/>
<rect x="494.2" y="106" width="8.4" height="8.4" fill="#000"/>
<rect x="540.4" y="159.03" width="8.4" height="8.4" fill="#000"/>
<rect x="586.6" y="148.72" width="8.4" height="8.4" fill="#000"/>
<rect x="632.8" y="202.35" width="8.4" height="8.4" fill="#000"/>
<rect x="679" y="225.38" width="8.4" height="8.4" fill="#000"/>
<line x1="150.25" y1="544.58" x2="150.25" y2="552.23" stroke="#000" stroke-width="1.1" />
<line x1="148.65" y1="544.58" x2="151.85" y2="544.58" stroke="#000" stroke-width="1.1" />
<line x1="148.65" y1="552.23" x2="151.85" y2="552.23" stroke="#000" stroke-width="1.1" />
<line x1="195.7" y1="511.46" x2="195.7" y2="529.29" stroke="#000" stroke-width="1.1" />
<line x1="194.1" y1="511.46" x2="197.3" y2="511.46" stroke="#000" stroke-width="1.1" />
<line x1="194.1" y1="529.29" x2="197.3" y2="529.29" stroke="#000" stroke-width="1.1" />
<line x1="241.15" y1="452.6" x2="241.15" y2="485.72" stroke="#000" stroke-width="1.1" />
<line x1="239.55" y1="452.6" x2="242.75" y2="452.6" stroke="#000" stroke-width="1.1" />
<line x1="239.55" y1="485.72" x2="242.75" y2="485.72" stroke="#000" stroke-width="1.1" />
<line x1="286.6" y1="382.53" x2="286.6" y2="413.11" stroke="#000" stroke-width="1.1" />
<line x1="285" y1="382.53" x2="288.2" y2="382.53" stroke="#000" stroke-width="1.1" />
<line x1="285" y1="413.11" x2="288.2" y2="413.11" stroke="#000" stroke-width="1.1" />
<line x1="150.25" y1="543.31" x2="150.25" y2="550.95" stroke="#000" stroke-width="1.1" />
<line x1="148.65" y1="543.31" x2="151.85" y2="543.31" stroke="#000" stroke-width="1.1" />
<line x1="148.65" y1="550.95" x2="151.85" y2="550.95" stroke="#000" stroke-width="1.1" />
<line x1="195.7" y1="502.03" x2="195.7" y2="519.87" stroke="#000" stroke-width="1.1" />
<line x1="194.1" y1="502.03" x2="197.3" y2="502.03" stroke="#000" stroke-width="1.1" />
<line x1="194.1" y1="519.87" x2="197.3" y2="519.87" stroke="#000" stroke-width="1.1" />
<line x1="241.15" y1="444.45" x2="241.15" y2="464.83" stroke="#000" stroke-width="1.1" />
<line x1="239.55" y1="444.45" x2="242.75" y2="444.45" stroke="#000" stroke-width="1.1" />
<line x1="239.55" y1="464.83" x2="242.75" y2="464.83" stroke="#000" stroke-width="1.1" />
<line x1="286.6" y1="376.67" x2="286.6" y2="397.05" stroke="#000" stroke-width="1.1" />
<line x1="285" y1="376.67" x2="288.2" y2="376.67" stroke="#000" stroke-width="1.1" />
<line x1="285" y1="397.05" x2="288.2" y2="397.05" stroke="#000" stroke-width="1.1" />
<line x1="150.25" y1="544.58" x2="150.25" y2="552.23" stroke="#000" stroke-width="1.1" />
<line x1="148.65" y1="544.58" x2="151.85" y2="544.58" stroke="#000" stroke-width="1.1" />
<line x1="148.65" y1="552.23" x2="151.85" y2="552.23" stroke="#000" stroke-width="1.1" />
<line x1="195.7" y1="488.53" x2="195.7" y2="506.36" stroke="#000" stroke-width="1.1" />
<line x1="194.1" y1="488.53" x2="197.3" y2="488.53" stroke="#000" stroke-width="1.1" />
<line x1="194.1" y1="506.36" x2="197.3" y2="506.36" stroke="#000" stroke-width="1.1" />
<line x1="241.15" y1="424.57" x2="241.15" y2="444.96" stroke="#000" stroke-width="1.1" />
<line x1="239.55" y1="424.57" x2="242.75" y2="424.57" stroke="#000" stroke-width="1.1" />
<line x1="239.55" y1="444.96" x2="242.75" y2="444.96" stroke="#000" stroke-width="1.1" />
<line x1="286.6" y1="358.58" x2="286.6" y2="366.22" stroke="#000" stroke-width="1.1" />
<line x1="285" y1="358.58" x2="288.2" y2="358.58" stroke="#000" stroke-width="1.1" />
<line x1="285" y1="366.22" x2="288.2" y2="366.22" stroke="#000" stroke-width="1.1" />
<line x1="150.25" y1="542.03" x2="150.25" y2="549.68" stroke="#000" stroke-width="1.1" />
<line x1="148.65" y1="542.03" x2="151.85" y2="542.03" stroke="#000" stroke-width="1.1" />
<line x1="148.65" y1="549.68" x2="151.85" y2="549.68" stroke="#000" stroke-width="1.1" />
<line x1="195.7" y1="494.39" x2="195.7" y2="512.22" stroke="#000" stroke-width="1.1" />
<line x1="194.1" y1="494.39" x2="197.3" y2="494.39" stroke="#000" stroke-width="1.1" />
<line x1="194.1" y1="512.22" x2="197.3" y2="512.22" stroke="#000" stroke-width="1.1" />
<line x1="241.15" y1="428.65" x2="241.15" y2="449.03" stroke="#000" stroke-width="1.1" />
<line x1="239.55" y1="428.65" x2="242.75" y2="428.65" stroke="#000" stroke-width="1.1" />
<line x1="239.55" y1="449.03" x2="242.75" y2="449.03" stroke="#000" stroke-width="1.1" />
<line x1="286.6" y1="363.42" x2="286.6" y2="371.06" stroke="#000" stroke-width="1.1" />
<line x1="285" y1="363.42" x2="288.2" y2="363.42" stroke="#000" stroke-width="1.1" />
<line x1="285" y1="371.06" x2="288.2" y2="371.06" stroke="#000" stroke-width="1.1" />
<line x1="150.25" y1="535.66" x2="150.25" y2="550.95" stroke="#000" stroke-width="1.1" />
<line x1="148.65" y1="535.66" x2="151.85" y2="535.66" stroke="#000" stroke-width="1.1" />
<line x1="148.65" y1="550.95" x2="151.85" y2="550.95" stroke="#000" stroke-width="1.1" />
<line x1="195.7" y1="456.42" x2="195.7" y2="481.9" stroke="#000" stroke-width="1.1" />
<line x1="194.1" y1="456.42" x2="197.3" y2="456.42" stroke="#000" stroke-width="1.1" />
<line x1="194.1" y1="481.9" x2="197.3" y2="481.9" stroke="#000" stroke-width="1.1" />
<line x1="241.15" y1="382.27" x2="241.15" y2="402.66" stroke="#000" stroke-width="1.1" />
<line x1="239.55" y1="382.27" x2="242.75" y2="382.27" stroke="#000" stroke-width="1.1" />
<line x1="239.55" y1="402.66" x2="242.75" y2="402.66" stroke="#000" stroke-width="1.1" />
<line x1="286.6" y1="323.42" x2="286.6" y2="331.06" stroke="#000" stroke-width="1.1" />
<line x1="285" y1="323.42" x2="288.2" y2="323.42" stroke="#000" stroke-width="1.1" />
<line x1="285" y1="331.06" x2="288.2" y2="331.06" stroke="#000" stroke-width="1.1" />
<line x1="150.25" y1="530.31" x2="150.25" y2="553.25" stroke="#000" stroke-width="1.1" />
<line x1="148.65" y1="530.31" x2="151.85" y2="530.31" stroke="#000" stroke-width="1.1" />
<line x1="148.65" y1="553.25" x2="151.85" y2="553.25" stroke="#000" stroke-width="1.1" />
<line x1="195.7" y1="439.09" x2="195.7" y2="478.33" stroke="#000" stroke-width="1.1" />
<line x1="194.1" y1="439.09" x2="197.3" y2="439.09" stroke="#000" stroke-width="1.1" />
<line x1="194.1" y1="478.33" x2="197.3" y2="478.33" stroke="#000" stroke-width="1.1" />
<line x1="241.15" y1="368.26" x2="241.15" y2="393.74" stroke="#000" stroke-width="1.1" />
<line x1="239.55" y1="368.26" x2="242.75" y2="368.26" stroke="#000" stroke-width="1.1" />
<line x1="239.55" y1="393.74" x2="242.75" y2="393.74" stroke="#000" stroke-width="1.1" />
<line x1="286.6" y1="300.74" x2="286.6" y2="305.83" stroke="#000" stroke-width="1.1" />
<line x1="285" y1="300.74" x2="288.2" y2="300.74" stroke="#000" stroke-width="1.1" />
<line x1="285" y1="305.83" x2="288.2" y2="305.83" stroke="#000" stroke-width="1.1" />
<polyline points="104.8,553.5 150.25,548.4 195.7,520.38 241.15,469.16 286.6,397.82 332.05,298.7" fill="none" stroke="#000" stroke-width="1.15" />
<polyline points="104.8,553.5 150.25,547.13 195.7,510.95 241.15,454.64 286.6,386.86 332.05,298.7" fill="none" stroke="#000" stroke-width="1.25" stroke-dasharray="1.9 1.8"/>
<polyline points="104.8,553.5 150.25,548.4 195.7,497.44 241.15,434.76 286.6,362.4 332.05,298.7" fill="none" stroke="#000" stroke-width="1.15" />
<polyline points="104.8,553.5 150.25,545.86 195.7,503.3 241.15,438.84 286.6,367.24 332.05,298.7" fill="none" stroke="#000" stroke-width="1.25" stroke-dasharray="1.9 1.8"/>
<polyline points="104.8,553.5 150.25,543.31 195.7,469.16 241.15,392.47 286.6,327.24 332.05,298.7" fill="none" stroke="#000" stroke-width="1.15" />
<polyline points="104.8,553.5 150.25,541.78 195.7,458.71 241.15,381 286.6,303.29 332.05,298.7" fill="none" stroke="#000" stroke-width="1.25" stroke-dasharray="1.9 1.8"/>
<circle cx="104.8" cy="553.5" r="4.1" fill="#000"/>
<circle cx="150.25" cy="548.4" r="4.1" fill="#000"/>
<circle cx="195.7" cy="520.38" r="4.1" fill="#000"/>
<circle cx="241.15" cy="469.16" r="4.1" fill="#000"/>
<circle cx="286.6" cy="397.82" r="4.1" fill="#000"/>
<circle cx="332.05" cy="298.7" r="4.1" fill="#000"/>
<circle cx="104.8" cy="553.5" r="4.1" fill="#000"/>
<circle cx="150.25" cy="547.13" r="4.1" fill="#000"/>
<circle cx="195.7" cy="510.95" r="4.1" fill="#000"/>
<circle cx="241.15" cy="454.64" r="4.1" fill="#000"/>
<circle cx="286.6" cy="386.86" r="4.1" fill="#000"/>
<circle cx="332.05" cy="298.7" r="4.1" fill="#000"/>
<path d="M104.8 548.44L110.2 557.64L99.4 557.64Z" fill="#000"/>
<path d="M150.25 543.34L155.65 552.54L144.85 552.54Z" fill="#000"/>
<path d="M195.7 492.38L201.1 501.58L190.3 501.58Z" fill="#000"/>
<path d="M241.15 429.7L246.55 438.9L235.75 438.9Z" fill="#000"/>
<path d="M286.6 357.34L292 366.54L281.2 366.54Z" fill="#000"/>
<path d="M332.05 293.64L337.45 302.84L326.65 302.84Z" fill="#000"/>
<path d="M104.8 548.44L110.2 557.64L99.4 557.64Z" fill="#000"/>
<path d="M150.25 540.8L155.65 550L144.85 550Z" fill="#000"/>
<path d="M195.7 498.24L201.1 507.44L190.3 507.44Z" fill="#000"/>
<path d="M241.15 433.78L246.55 442.98L235.75 442.98Z" fill="#000"/>
<path d="M286.6 362.18L292 371.38L281.2 371.38Z" fill="#000"/>
<path d="M332.05 293.64L337.45 302.84L326.65 302.84Z" fill="#000"/>
<rect x="100.6" y="549.3" width="8.4" height="8.4" fill="#000"/>
<rect x="146.05" y="539.11" width="8.4" height="8.4" fill="#000"/>
<rect x="191.5" y="464.96" width="8.4" height="8.4" fill="#000"/>
<rect x="236.95" y="388.27" width="8.4" height="8.4" fill="#000"/>
<rect x="282.4" y="323.04" width="8.4" height="8.4" fill="#000"/>
<rect x="327.85" y="294.5" width="8.4" height="8.4" fill="#000"/>
<rect x="100.6" y="549.3" width="8.4" height="8.4" fill="#000"/>
<rect x="146.05" y="537.58" width="8.4" height="8.4" fill="#000"/>
<rect x="191.5" y="454.51" width="8.4" height="8.4" fill="#000"/>
<rect x="236.95" y="376.8" width="8.4" height="8.4" fill="#000"/>
<rect x="282.4" y="299.09" width="8.4" height="8.4" fill="#000"/>
<rect x="327.85" y="294.5" width="8.4" height="8.4" fill="#000"/>
<line x1="453.7" y1="541.71" x2="453.7" y2="549.51" stroke="#000" stroke-width="1.1" />
<line x1="452.1" y1="541.71" x2="455.3" y2="541.71" stroke="#000" stroke-width="1.1" />
<line x1="452.1" y1="549.51" x2="455.3" y2="549.51" stroke="#000" stroke-width="1.1" />
<line x1="499.42" y1="499.37" x2="499.42" y2="522.23" stroke="#000" stroke-width="1.1" />
<line x1="497.82" y1="499.37" x2="501.02" y2="499.37" stroke="#000" stroke-width="1.1" />
<line x1="497.82" y1="522.23" x2="501.02" y2="522.23" stroke="#000" stroke-width="1.1" />
<line x1="545.14" y1="439.35" x2="545.14" y2="461.18" stroke="#000" stroke-width="1.1" />
<line x1="543.54" y1="439.35" x2="546.74" y2="439.35" stroke="#000" stroke-width="1.1" />
<line x1="543.54" y1="461.18" x2="546.74" y2="461.18" stroke="#000" stroke-width="1.1" />
<line x1="590.86" y1="381.68" x2="590.86" y2="397.26" stroke="#000" stroke-width="1.1" />
<line x1="589.26" y1="381.68" x2="592.46" y2="381.68" stroke="#000" stroke-width="1.1" />
<line x1="589.26" y1="397.26" x2="592.46" y2="397.26" stroke="#000" stroke-width="1.1" />
<line x1="636.58" y1="339.07" x2="636.58" y2="350.5" stroke="#000" stroke-width="1.1" />
<line x1="634.98" y1="339.07" x2="638.18" y2="339.07" stroke="#000" stroke-width="1.1" />
<line x1="634.98" y1="350.5" x2="638.18" y2="350.5" stroke="#000" stroke-width="1.1" />
<line x1="453.7" y1="540.41" x2="453.7" y2="548.21" stroke="#000" stroke-width="1.1" />
<line x1="452.1" y1="540.41" x2="455.3" y2="540.41" stroke="#000" stroke-width="1.1" />
<line x1="452.1" y1="548.21" x2="455.3" y2="548.21" stroke="#000" stroke-width="1.1" />
<line x1="499.42" y1="498.59" x2="499.42" y2="514.17" stroke="#000" stroke-width="1.1" />
<line x1="497.82" y1="498.59" x2="501.02" y2="498.59" stroke="#000" stroke-width="1.1" />
<line x1="497.82" y1="514.17" x2="501.02" y2="514.17" stroke="#000" stroke-width="1.1" />
<line x1="545.14" y1="431.82" x2="545.14" y2="447.41" stroke="#000" stroke-width="1.1" />
<line x1="543.54" y1="431.82" x2="546.74" y2="431.82" stroke="#000" stroke-width="1.1" />
<line x1="543.54" y1="447.41" x2="546.74" y2="447.41" stroke="#000" stroke-width="1.1" />
<line x1="590.86" y1="367.13" x2="590.86" y2="382.72" stroke="#000" stroke-width="1.1" />
<line x1="589.26" y1="367.13" x2="592.46" y2="367.13" stroke="#000" stroke-width="1.1" />
<line x1="589.26" y1="382.72" x2="592.46" y2="382.72" stroke="#000" stroke-width="1.1" />
<line x1="636.58" y1="322.18" x2="636.58" y2="332.57" stroke="#000" stroke-width="1.1" />
<line x1="634.98" y1="322.18" x2="638.18" y2="322.18" stroke="#000" stroke-width="1.1" />
<line x1="634.98" y1="332.57" x2="638.18" y2="332.57" stroke="#000" stroke-width="1.1" />
<line x1="453.7" y1="528.2" x2="453.7" y2="549.51" stroke="#000" stroke-width="1.1" />
<line x1="452.1" y1="528.2" x2="455.3" y2="528.2" stroke="#000" stroke-width="1.1" />
<line x1="452.1" y1="549.51" x2="455.3" y2="549.51" stroke="#000" stroke-width="1.1" />
<line x1="499.42" y1="467.15" x2="499.42" y2="479.62" stroke="#000" stroke-width="1.1" />
<line x1="497.82" y1="467.15" x2="501.02" y2="467.15" stroke="#000" stroke-width="1.1" />
<line x1="497.82" y1="479.62" x2="501.02" y2="479.62" stroke="#000" stroke-width="1.1" />
<line x1="545.14" y1="417.01" x2="545.14" y2="427.4" stroke="#000" stroke-width="1.1" />
<line x1="543.54" y1="417.01" x2="546.74" y2="417.01" stroke="#000" stroke-width="1.1" />
<line x1="543.54" y1="427.4" x2="546.74" y2="427.4" stroke="#000" stroke-width="1.1" />
<line x1="590.86" y1="353.36" x2="590.86" y2="368.95" stroke="#000" stroke-width="1.1" />
<line x1="589.26" y1="353.36" x2="592.46" y2="353.36" stroke="#000" stroke-width="1.1" />
<line x1="589.26" y1="368.95" x2="592.46" y2="368.95" stroke="#000" stroke-width="1.1" />
<line x1="636.58" y1="314.39" x2="636.58" y2="324.78" stroke="#000" stroke-width="1.1" />
<line x1="634.98" y1="314.39" x2="638.18" y2="314.39" stroke="#000" stroke-width="1.1" />
<line x1="634.98" y1="324.78" x2="638.18" y2="324.78" stroke="#000" stroke-width="1.1" />
<line x1="453.7" y1="543.01" x2="453.7" y2="556.52" stroke="#000" stroke-width="1.1" />
<line x1="452.1" y1="543.01" x2="455.3" y2="543.01" stroke="#000" stroke-width="1.1" />
<line x1="452.1" y1="556.52" x2="455.3" y2="556.52" stroke="#000" stroke-width="1.1" />
<line x1="499.42" y1="474.94" x2="499.42" y2="485.34" stroke="#000" stroke-width="1.1" />
<line x1="497.82" y1="474.94" x2="501.02" y2="474.94" stroke="#000" stroke-width="1.1" />
<line x1="497.82" y1="485.34" x2="501.02" y2="485.34" stroke="#000" stroke-width="1.1" />
<line x1="545.14" y1="419.61" x2="545.14" y2="430" stroke="#000" stroke-width="1.1" />
<line x1="543.54" y1="419.61" x2="546.74" y2="419.61" stroke="#000" stroke-width="1.1" />
<line x1="543.54" y1="430" x2="546.74" y2="430" stroke="#000" stroke-width="1.1" />
<line x1="590.86" y1="358.55" x2="590.86" y2="374.14" stroke="#000" stroke-width="1.1" />
<line x1="589.26" y1="358.55" x2="592.46" y2="358.55" stroke="#000" stroke-width="1.1" />
<line x1="589.26" y1="374.14" x2="592.46" y2="374.14" stroke="#000" stroke-width="1.1" />
<line x1="636.58" y1="316.99" x2="636.58" y2="327.38" stroke="#000" stroke-width="1.1" />
<line x1="634.98" y1="316.99" x2="638.18" y2="316.99" stroke="#000" stroke-width="1.1" />
<line x1="634.98" y1="327.38" x2="638.18" y2="327.38" stroke="#000" stroke-width="1.1" />
<line x1="453.7" y1="536.52" x2="453.7" y2="552.11" stroke="#000" stroke-width="1.1" />
<line x1="452.1" y1="536.52" x2="455.3" y2="536.52" stroke="#000" stroke-width="1.1" />
<line x1="452.1" y1="552.11" x2="455.3" y2="552.11" stroke="#000" stroke-width="1.1" />
<line x1="499.42" y1="475.46" x2="499.42" y2="491.05" stroke="#000" stroke-width="1.1" />
<line x1="497.82" y1="475.46" x2="501.02" y2="475.46" stroke="#000" stroke-width="1.1" />
<line x1="497.82" y1="491.05" x2="501.02" y2="491.05" stroke="#000" stroke-width="1.1" />
<line x1="545.14" y1="418.31" x2="545.14" y2="428.7" stroke="#000" stroke-width="1.1" />
<line x1="543.54" y1="418.31" x2="546.74" y2="418.31" stroke="#000" stroke-width="1.1" />
<line x1="543.54" y1="428.7" x2="546.74" y2="428.7" stroke="#000" stroke-width="1.1" />
<line x1="590.86" y1="344.27" x2="590.86" y2="364.53" stroke="#000" stroke-width="1.1" />
<line x1="589.26" y1="344.27" x2="592.46" y2="344.27" stroke="#000" stroke-width="1.1" />
<line x1="589.26" y1="364.53" x2="592.46" y2="364.53" stroke="#000" stroke-width="1.1" />
<line x1="636.58" y1="309.45" x2="636.58" y2="317.25" stroke="#000" stroke-width="1.1" />
<line x1="634.98" y1="309.45" x2="638.18" y2="309.45" stroke="#000" stroke-width="1.1" />
<line x1="634.98" y1="317.25" x2="638.18" y2="317.25" stroke="#000" stroke-width="1.1" />
<line x1="453.7" y1="539.12" x2="453.7" y2="554.7" stroke="#000" stroke-width="1.1" />
<line x1="452.1" y1="539.12" x2="455.3" y2="539.12" stroke="#000" stroke-width="1.1" />
<line x1="452.1" y1="554.7" x2="455.3" y2="554.7" stroke="#000" stroke-width="1.1" />
<line x1="499.42" y1="484.04" x2="499.42" y2="499.63" stroke="#000" stroke-width="1.1" />
<line x1="497.82" y1="484.04" x2="501.02" y2="484.04" stroke="#000" stroke-width="1.1" />
<line x1="497.82" y1="499.63" x2="501.02" y2="499.63" stroke="#000" stroke-width="1.1" />
<line x1="545.14" y1="420.91" x2="545.14" y2="431.3" stroke="#000" stroke-width="1.1" />
<line x1="543.54" y1="420.91" x2="546.74" y2="420.91" stroke="#000" stroke-width="1.1" />
<line x1="543.54" y1="431.3" x2="546.74" y2="431.3" stroke="#000" stroke-width="1.1" />
<line x1="590.86" y1="361.15" x2="590.86" y2="376.74" stroke="#000" stroke-width="1.1" />
<line x1="589.26" y1="361.15" x2="592.46" y2="361.15" stroke="#000" stroke-width="1.1" />
<line x1="589.26" y1="376.74" x2="592.46" y2="376.74" stroke="#000" stroke-width="1.1" />
<line x1="636.58" y1="319.58" x2="636.58" y2="329.98" stroke="#000" stroke-width="1.1" />
<line x1="634.98" y1="319.58" x2="638.18" y2="319.58" stroke="#000" stroke-width="1.1" />
<line x1="634.98" y1="329.98" x2="638.18" y2="329.98" stroke="#000" stroke-width="1.1" />
<polyline points="453.7,545.61 499.42,510.8 545.14,450.26 590.86,389.47 636.58,344.78 682.3,298.8" fill="none" stroke="#000" stroke-width="1.15" />
<polyline points="453.7,544.31 499.42,506.38 545.14,439.61 590.86,374.92 636.58,327.38 682.3,298.8" fill="none" stroke="#000" stroke-width="1.25" stroke-dasharray="1.9 1.8"/>
<polyline points="453.7,538.86 499.42,473.39 545.14,422.21 590.86,361.15 636.58,319.58 682.3,298.8" fill="none" stroke="#000" stroke-width="1.15" />
<polyline points="453.7,549.77 499.42,480.14 545.14,424.8 590.86,366.35 636.58,322.18 682.3,298.8" fill="none" stroke="#000" stroke-width="1.25" stroke-dasharray="1.9 1.8"/>
<polyline points="453.7,544.31 499.42,483.26 545.14,423.5 590.86,354.4 636.58,313.35 682.3,298.8" fill="none" stroke="#000" stroke-width="1.15" />
<polyline points="453.7,546.91 499.42,491.83 545.14,426.1 590.86,368.95 636.58,324.78 682.3,298.8" fill="none" stroke="#000" stroke-width="1.25" stroke-dasharray="1.9 1.8"/>
<circle cx="453.7" cy="545.61" r="4.1" fill="#000"/>
<circle cx="499.42" cy="510.8" r="4.1" fill="#000"/>
<circle cx="545.14" cy="450.26" r="4.1" fill="#000"/>
<circle cx="590.86" cy="389.47" r="4.1" fill="#000"/>
<circle cx="636.58" cy="344.78" r="4.1" fill="#000"/>
<circle cx="682.3" cy="298.8" r="4.1" fill="#000"/>
<circle cx="453.7" cy="544.31" r="4.1" fill="#000"/>
<circle cx="499.42" cy="506.38" r="4.1" fill="#000"/>
<circle cx="545.14" cy="439.61" r="4.1" fill="#000"/>
<circle cx="590.86" cy="374.92" r="4.1" fill="#000"/>
<circle cx="636.58" cy="327.38" r="4.1" fill="#000"/>
<circle cx="682.3" cy="298.8" r="4.1" fill="#000"/>
<path d="M453.7 533.8L459.1 543L448.3 543Z" fill="#000"/>
<path d="M499.42 468.33L504.82 477.53L494.02 477.53Z" fill="#000"/>
<path d="M545.14 417.15L550.54 426.35L539.74 426.35Z" fill="#000"/>
<path d="M590.86 356.09L596.26 365.29L585.46 365.29Z" fill="#000"/>
<path d="M636.58 314.52L641.98 323.72L631.18 323.72Z" fill="#000"/>
<path d="M682.3 293.74L687.7 302.94L676.9 302.94Z" fill="#000"/>
<path d="M453.7 544.71L459.1 553.91L448.3 553.91Z" fill="#000"/>
<path d="M499.42 475.08L504.82 484.28L494.02 484.28Z" fill="#000"/>
<path d="M545.14 419.74L550.54 428.94L539.74 428.94Z" fill="#000"/>
<path d="M590.86 361.29L596.26 370.49L585.46 370.49Z" fill="#000"/>
<path d="M636.58 317.12L641.98 326.32L631.18 326.32Z" fill="#000"/>
<path d="M682.3 293.74L687.7 302.94L676.9 302.94Z" fill="#000"/>
<rect x="449.5" y="540.11" width="8.4" height="8.4" fill="#000"/>
<rect x="495.22" y="479.06" width="8.4" height="8.4" fill="#000"/>
<rect x="540.94" y="419.3" width="8.4" height="8.4" fill="#000"/>
<rect x="586.66" y="350.2" width="8.4" height="8.4" fill="#000"/>
<rect x="632.38" y="309.15" width="8.4" height="8.4" fill="#000"/>
<rect x="678.1" y="294.6" width="8.4" height="8.4" fill="#000"/>
<rect x="449.5" y="542.71" width="8.4" height="8.4" fill="#000"/>
<rect x="495.22" y="487.63" width="8.4" height="8.4" fill="#000"/>
<rect x="540.94" y="421.9" width="8.4" height="8.4" fill="#000"/>
<rect x="586.66" y="364.75" width="8.4" height="8.4" fill="#000"/>
<rect x="632.38" y="320.58" width="8.4" height="8.4" fill="#000"/>
<rect x="678.1" y="294.6" width="8.4" height="8.4" fill="#000"/>
<text x="89.8" y="50.5" font-size="12.5" text-anchor="start" font-weight="normal" font-style="normal" >Water regime</text>
<line x1="91.7" y1="62.6" x2="103.8" y2="62.6" stroke="#000" stroke-width="1.2" />
<text x="111.6" y="66" font-size="12.5" text-anchor="start" font-weight="normal" font-style="normal" >WW</text>
<line x1="91.7" y1="79.9" x2="104" y2="79.9" stroke="#000" stroke-width="1.2" stroke-dasharray="2.1 1.3"/>
<text x="111.6" y="83.6" font-size="12.5" text-anchor="start" font-weight="normal" font-style="normal" >WS</text>
<text x="92.6" y="100.9" font-size="12.5" text-anchor="start" font-weight="normal" font-style="normal" >Temperature</text>
<circle cx="97.7" cy="116.1" r="3.2" fill="#000"/>
<path d="M97.85 127.4L101.9 134L93.8 134Z" fill="#000"/>
<rect x="94.9" y="143.6" width="6" height="6" fill="#000"/>
<text x="108.9" y="118.6" font-size="12.5" text-anchor="start" font-weight="normal" font-style="normal" >21°C</text>
<text x="108.3" y="133.9" font-size="12.5" text-anchor="start" font-weight="normal" font-style="normal" >24°C</text>
<text x="107.6" y="151.6" font-size="12.5" text-anchor="start" font-weight="normal" font-style="normal" >27°C</text>
</svg></body></html>
